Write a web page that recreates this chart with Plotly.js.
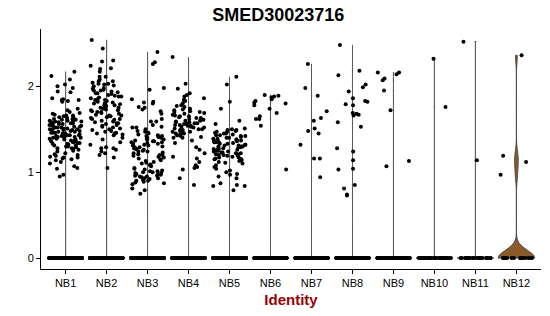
<!DOCTYPE html>
<html><head><meta charset="utf-8">
<script src="https://cdn.plot.ly/plotly-3.0.1.min.js"></script>
<style>html,body{margin:0;padding:0;background:#fff}#chart{width:550px;height:316px}</style>
</head><body><div id="chart"></div>
<script>
const categories = ["NB1","NB2","NB3","NB4","NB5","NB6","NB7","NB8","NB9","NB10","NB11","NB12"];
const zeroCounts = [400,400,400,400,400,200,200,200,120,40,25,20];

const nb1 = [2.17,2.12,2.08,2.02,2.00,1.98,1.94,1.93,1.86,1.85,1.84,1.84,1.83,1.82,1.74,1.72,1.70,1.69,
1.68,1.67,1.66,1.66,1.65,1.64,1.64,1.63,1.62,1.62,1.61,1.61,1.60,1.60,1.60,1.59,1.59,1.58,1.58,1.57,1.57,1.56,1.56,1.56,1.55,1.55,1.54,1.54,1.53,1.53,1.52,1.52,1.52,1.51,1.51,1.50,1.50,1.50,1.49,1.49,1.48,1.48,1.47,1.47,1.46,1.46,1.46,1.45,1.45,1.44,1.44,1.43,1.43,1.43,1.42,1.42,1.41,1.41,1.40,1.40,1.40,1.39,1.39,1.38,1.38,1.37,1.37,1.36,1.36,1.35,1.35,1.34,1.34,1.33,1.33,1.32,1.31,1.31,1.30,1.30,1.29,1.28,1.28,1.27,1.26,1.25,1.24,
1.22,1.21,1.20,1.19,1.18,1.17,1.17,1.16,1.15,1.14,1.12,1.10,1.07,1.05,1.04,0.97,0.95];
const nb2 = [2.54,2.44,2.30,2.29,2.24,2.21,2.20,2.17,2.11,2.11,2.08,2.06,2.06,2.04,2.03,2.03,2.02,2.01,2.00,
1.98,1.97,1.96,1.95,1.95,1.94,1.93,1.92,1.92,1.91,1.90,1.89,1.88,1.88,1.87,1.86,1.85,1.84,1.84,1.83,1.82,1.81,1.80,1.80,1.79,1.78,1.78,1.77,1.76,1.75,1.75,1.74,1.73,1.72,1.72,1.71,1.70,1.70,1.69,1.68,1.67,1.66,1.66,1.65,1.64,1.63,1.62,1.62,1.61,1.60,1.59,1.58,1.57,1.57,1.56,1.55,1.54,1.53,1.52,1.51,1.50,1.49,1.48,1.47,1.46,1.45,1.45,1.44,1.43,
1.40,1.38,1.35,1.32,1.29,1.28,1.28,1.26,1.24,1.22,1.20,1.17,1.05];
const nb3 = [2.40,2.28,2.26,1.98,1.96,1.85,1.82,1.81,1.80,1.76,1.75,1.73,1.71,1.68,1.62,1.59,1.59,1.55,1.53,1.52,1.52,1.50,
1.48,1.47,1.46,1.45,1.44,1.43,1.42,1.42,1.41,1.40,1.40,1.39,1.38,1.38,1.37,1.36,1.36,1.35,1.35,1.34,1.33,1.33,1.32,1.31,1.31,1.30,1.29,1.29,1.28,1.27,1.27,1.26,1.25,1.24,1.24,1.23,1.22,1.21,1.20,1.20,1.19,1.18,1.17,1.16,1.15,1.14,1.13,1.12,1.11,1.10,1.09,1.08,1.07,1.05,1.04,1.03,
1.02,1.01,1.01,1.00,1.00,0.99,0.99,0.98,0.97,0.97,0.96,0.96,0.95,0.95,0.94,0.93,0.93,0.92,0.91,0.90,0.90,0.89,0.88,0.87,0.86,0.81,0.79,0.75];
const nb4 = [2.34,2.03,1.97,1.92,1.90,1.88,1.86,1.84,1.84,1.83,1.80,1.78,1.77,1.76,
1.74,1.73,1.72,1.71,1.70,1.70,1.69,1.68,1.67,1.67,1.66,1.65,1.65,1.64,1.63,1.63,1.62,1.61,1.61,1.60,1.60,1.59,1.58,1.58,1.57,1.57,1.56,1.56,1.55,1.55,1.54,1.54,1.53,1.53,1.52,1.52,1.51,1.50,1.50,1.49,1.49,1.48,1.47,1.47,1.46,1.45,1.45,1.44,1.43,1.43,1.42,1.41,1.40,1.40,
1.37,1.34,1.29,1.26,1.22,1.18,1.16,1.12,1.08,1.06,1.05,1.03,0.93,0.85];
const nb5 = [2.11,2.02,1.82,1.74,1.60,1.56,
1.51,1.50,1.49,1.49,1.48,1.47,1.47,1.46,1.45,1.45,1.44,1.43,1.43,1.42,1.42,1.41,1.40,1.40,1.39,1.39,1.38,1.38,1.37,1.37,1.36,1.36,1.35,1.35,1.34,1.34,1.33,1.33,1.32,1.32,1.31,1.31,1.30,1.30,1.30,1.29,1.29,1.28,1.28,1.27,1.27,1.26,1.26,1.25,1.25,1.24,1.24,1.23,1.23,1.22,1.22,1.21,1.21,1.20,1.20,1.19,1.19,1.18,1.17,1.17,1.16,1.15,1.15,1.14,1.13,1.12,1.11,1.10,
1.08,1.06,1.04,1.02,1.00,0.98,0.97,0.95,0.93,0.87,0.85,0.84,0.84,0.79];
const nb6 = [1.90,1.89,1.88,1.87,1.85,1.83,1.81,1.80,1.78,1.74,1.69,1.65,1.62,1.62,1.54,1.03];
const nb7 = [2.26,1.98,1.89,1.71,1.63,1.60,1.51,1.48,1.45,1.32,1.16,1.16,0.94];
const nb8 = [2.48,2.18,2.13,2.02,1.99,1.94,1.86,1.83,1.82,1.79,1.78,1.69,1.68,1.67,1.66,1.58,1.53,1.28,1.24,1.14,1.04,1.03,0.85,0.81,0.74,0.73];
const nb9 = [2.16,2.16,2.14,2.09,2.07,1.95,1.72,1.13,1.07];
const nb10 = [2.32,1.76];
const nb11 = [2.52,1.14];
const nb12 = [2.36,1.19,1.12,0.97];
const nonZero = [nb1,nb2,nb3,nb4,nb5,nb6,nb7,nb8,nb9,nb10,nb11,nb12];
const bandwidths = [0.005,0.005,0.005,0.005,0.005,0.005,0.005,0.005,0.005,0.005,0.005,0.09];

// seeded jitter (horizontal placement only)
function mulberry32(a){return function(){a|=0;a=a+0x6D2B79F5|0;let t=Math.imul(a^a>>>15,1|a);t=t+Math.imul(t^t>>>7,61|t)^t;return((t^t>>>14)>>>0)/4294967296;};}
const rnd = mulberry32(20230716);

const traces = [];
const px = [], py = [];
categories.forEach((c, i) => {
  const vals = nonZero[i].concat(new Array(zeroCounts[i]).fill(0));
  traces.push({
    type: 'violin', x0: i, y: vals, name: c, orientation: 'v',
    width: 0.9, scalemode: 'width', spanmode: 'hard', bandwidth: bandwidths[i],
    points: false, fillcolor: '#8B5A2B', line: {color: '#3a3a3a', width: 0.8},
    hoverinfo: 'skip', showlegend: false
  });
  vals.forEach(v => { px.push(i + (rnd() - 0.5) * 0.8); py.push(v); });
});
traces.push({type: 'scatter', mode: 'markers', x: px, y: py,
  marker: {color: '#000', size: 4, line: {width: 0}}, hoverinfo: 'skip', showlegend: false});

const layout = {
  width: 550, height: 316,
  margin: {l: 41, r: 9, t: 29, b: 47},
  paper_bgcolor: '#fff', plot_bgcolor: '#fff',
  font: {family: 'Liberation Sans, Arial, sans-serif', color: '#000', size: 11},
  violinmode: 'overlay',
  title: {text: '<b>SMED30023716</b>', font: {size: 18, color: '#000'}, x: 0.506, xanchor: 'center', xref: 'container', yref: 'container', y: 0.955, yanchor: 'middle'},
  xaxis: {
    range: [-0.6, 11.6], tickvals: categories.map((c, i) => i), ticktext: categories,
    showline: true, linecolor: '#000', linewidth: 1, ticks: 'outside', ticklen: 4, tickcolor: '#000',
    showgrid: false, zeroline: false, tickfont: {size: 11, color: '#000'},
    title: {text: '<b>Identity</b>', font: {size: 15, color: '#990000'}, standoff: 6}
  },
  yaxis: {
    range: [-0.127, 2.667], tickvals: [0, 1, 2],
    showline: true, linecolor: '#000', linewidth: 1, ticks: 'outside', ticklen: 4, tickcolor: '#000',
    showgrid: false, zeroline: false, tickfont: {size: 11, color: '#000'}
  }
};
Plotly.newPlot('chart', traces, layout, {staticPlot: true, displayModeBar: false});
</script></body></html>
